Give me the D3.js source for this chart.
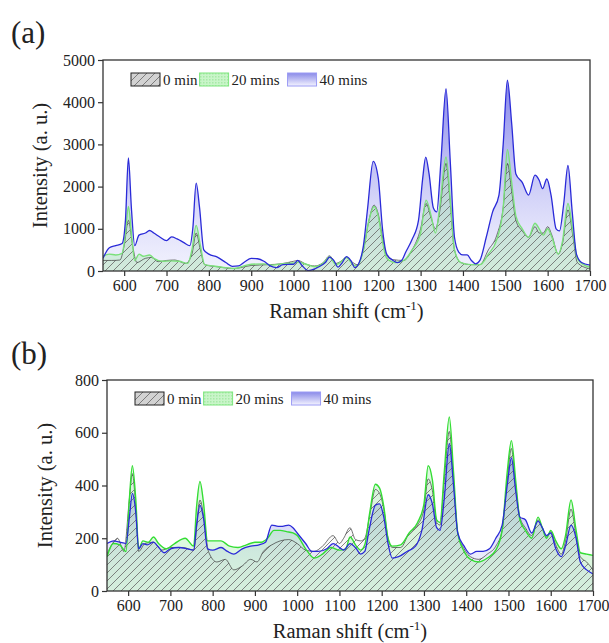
<!DOCTYPE html>
<html>
<head>
<meta charset="utf-8">
<script src="https://cdn.jsdelivr.net/npm/d3@7"></script>
<style>
  body { margin: 0; background: #fff; }
  text { font-family: "Liberation Serif", "Times New Roman", serif; fill: #222; }
</style>
</head>
<body>
<svg id="chart" width="609" height="643"></svg>
<script>
// ---- data: [Raman shift, intensity] ----
var seriesNames = ["0 min", "20 mins", "40 mins"];
var xTicks = [600, 700, 800, 900, 1000, 1100, 1200, 1300, 1400, 1500, 1600, 1700];
var yTicksA = [0, 1000, 2000, 3000, 4000, 5000];
var yTicksB = [0, 200, 400, 600, 800];

// panel (a)
var a0 = [[550,250],[570,250],[590,260],[600,600],[610,1200],[620,600],[630,200],[650,300],[665,320],[680,220],[700,250],[720,260],[745,180],[760,400],[770,900],[780,500],[790,150],[820,100],[860,60],[900,130],[940,150],[970,170],[1000,230],[1010,250],[1030,160],[1050,120],[1070,200],[1085,360],[1100,180],[1110,220],[1125,320],[1140,200],[1150,150],[1165,500],[1178,1200],[1190,1560],[1200,1350],[1210,800],[1220,350],[1235,270],[1260,250],[1280,500],[1300,1000],[1313,1600],[1325,1250],[1335,1000],[1345,1400],[1360,2550],[1370,1600],[1380,500],[1395,200],[1420,150],[1440,150],[1460,500],[1480,850],[1495,1500],[1505,2550],[1515,1900],[1525,1200],[1540,950],[1555,800],[1570,1050],[1580,900],[1590,900],[1600,1050],[1610,850],[1625,400],[1635,650],[1648,1450],[1660,800],[1670,200],[1700,50]];
var a20 = [[550,350],[565,400],[580,380],[595,420],[603,900],[610,1530],[618,800],[625,250],[635,400],[645,350],[660,380],[670,300],[690,230],[710,240],[730,230],[750,180],[760,500],[770,1080],[780,600],[790,150],[810,120],[840,80],[860,60],[880,110],[900,160],[930,170],[950,140],[970,170],[1000,190],[1010,210],[1030,160],[1050,100],[1070,180],[1085,330],[1100,150],[1110,200],[1125,320],[1140,150],[1150,120],[1165,500],[1178,1200],[1190,1530],[1200,1300],[1210,700],[1220,300],[1240,200],[1260,250],[1280,500],[1300,900],[1313,1680],[1325,1300],[1335,900],[1345,1500],[1360,2700],[1370,1700],[1380,500],[1395,200],[1420,150],[1440,150],[1460,400],[1480,750],[1495,1500],[1505,2880],[1515,2100],[1525,1300],[1540,1000],[1555,800],[1570,1130],[1580,1000],[1590,850],[1600,1000],[1610,800],[1625,400],[1635,700],[1648,1600],[1660,900],[1670,300],[1685,150],[1700,90]];
var a40 = [[550,300],[565,550],[580,600],[595,650],[603,1200],[610,2680],[617,1500],[625,600],[635,850],[650,900],[660,960],[670,900],[685,800],[700,720],[712,810],[725,760],[740,680],[755,600],[762,1000],[770,2080],[778,1500],[788,500],[800,400],[820,330],[840,200],[855,110],[870,120],[885,220],[900,300],[915,290],[930,230],[945,120],[960,80],[975,150],[1000,160],[1010,250],[1020,130],[1035,10],[1050,50],[1060,100],[1075,200],[1085,330],[1095,250],[1105,90],[1115,200],[1125,340],[1135,250],[1145,80],[1155,200],[1165,600],[1175,1500],[1188,2600],[1200,2200],[1210,1000],[1220,400],[1235,250],[1245,200],[1255,250],[1265,450],[1280,750],[1295,1200],[1305,2200],[1312,2700],[1320,2300],[1330,1500],[1338,1400],[1348,2600],[1360,4320],[1370,2600],[1380,800],[1390,450],[1400,380],[1410,380],[1420,250],[1430,170],[1440,250],[1455,800],[1470,1400],[1485,1800],[1495,3000],[1505,4520],[1515,3500],[1525,2300],[1540,2100],[1555,1800],[1570,2270],[1580,2150],[1588,1950],[1598,2180],[1608,1800],[1620,1000],[1628,950],[1638,1600],[1648,2500],[1658,1400],[1668,400],[1680,200],[1700,140]];

// panel (b)
var b0 = [[550,140],[565,185],[575,200],[590,150],[603,350],[610,445],[618,320],[625,150],[640,180],[660,185],[680,155],[700,165],[730,165],[755,155],[770,345],[780,270],[790,150],[810,110],[830,120],[850,80],[870,95],[890,120],[905,110],[920,150],[940,175],[960,190],[980,195],[1000,180],[1020,155],[1040,150],[1060,170],[1085,210],[1100,180],[1110,200],[1125,240],[1138,195],[1150,190],[1160,200],[1172,290],[1185,385],[1195,370],[1205,310],[1215,200],[1225,165],[1245,165],[1265,220],[1285,250],[1300,310],[1310,425],[1320,380],[1330,260],[1338,250],[1348,420],[1360,605],[1370,420],[1380,220],[1395,160],[1410,130],[1430,120],[1450,140],[1470,170],[1485,230],[1497,420],[1507,540],[1517,400],[1527,280],[1540,240],[1555,210],[1570,270],[1580,240],[1590,205],[1600,225],[1612,175],[1625,140],[1635,190],[1648,310],[1660,210],[1670,130],[1685,110],[1700,80]];
var b20 = [[550,130],[565,180],[580,175],[595,150],[603,350],[610,475],[618,350],[625,160],[635,190],[648,185],[660,205],[672,180],[690,160],[710,180],[735,200],[755,170],[762,320],[770,415],[778,340],[788,190],[805,190],[820,190],[840,170],[860,165],[880,175],[900,185],[915,185],[930,200],[945,230],[960,230],[975,225],[990,220],[1000,210],[1020,160],[1040,125],[1060,140],[1080,165],[1100,155],[1115,160],[1125,205],[1140,170],[1150,155],[1160,175],[1172,300],[1185,405],[1195,390],[1205,320],[1215,200],[1225,170],[1245,175],[1265,220],[1285,260],[1300,330],[1310,475],[1320,420],[1330,270],[1338,260],[1348,450],[1360,660],[1370,450],[1380,220],[1395,150],[1410,120],[1430,110],[1450,125],[1470,155],[1485,230],[1497,450],[1507,570],[1517,420],[1527,270],[1540,230],[1555,200],[1570,280],[1580,240],[1590,200],[1600,230],[1612,190],[1625,160],[1635,210],[1648,345],[1660,230],[1670,145],[1685,140],[1700,135]];
var b40 = [[550,180],[565,190],[580,185],[595,180],[603,280],[610,370],[618,300],[625,160],[635,180],[645,175],[660,185],[670,170],[685,145],[700,160],[720,165],[740,160],[755,155],[762,250],[770,325],[778,280],[788,160],[800,155],[820,165],[835,150],[850,140],[870,160],[890,170],[910,175],[925,185],[940,250],[955,245],[965,245],[980,250],[990,240],[1000,220],[1020,180],[1035,150],[1050,150],[1070,160],[1085,180],[1100,165],[1110,155],[1125,180],[1140,160],[1150,140],[1160,150],[1170,230],[1185,325],[1195,330],[1205,280],[1215,180],[1225,125],[1240,130],[1260,150],[1280,170],[1295,230],[1310,365],[1320,330],[1330,240],[1338,230],[1348,350],[1360,560],[1370,400],[1380,220],[1395,170],[1410,140],[1425,150],[1440,150],[1455,160],[1470,200],[1485,250],[1497,400],[1507,505],[1517,380],[1527,280],[1540,270],[1555,220],[1570,265],[1580,240],[1590,210],[1600,220],[1612,160],[1625,130],[1635,170],[1648,250],[1660,200],[1670,110],[1685,80],[1700,65]];

var svg = d3.select("#chart");
var defs = svg.append("defs");

// hatch for 0 min
var hatch = defs.append("pattern")
    .attr("id", "hatch")
    .attr("patternUnits", "userSpaceOnUse")
    .attr("width", 8).attr("height", 8);
hatch.append("rect").attr("width", 8).attr("height", 8).attr("fill", "rgba(170,170,170,0.06)");
hatch.append("path")
    .attr("d", "M0,8 L8,0 M-2,2 L2,-2 M6,10 L10,6")
    .attr("stroke", "#666").attr("stroke-width", 0.8);

// fine check for 20 mins swatch
var dots = defs.append("pattern")
    .attr("id", "dots")
    .attr("patternUnits", "userSpaceOnUse")
    .attr("width", 3).attr("height", 3);
dots.append("rect").attr("width", 3).attr("height", 3).attr("fill", "#c9f5c9");
dots.append("rect").attr("width", 1.5).attr("height", 1.5).attr("fill", "#a8eaa8");

var lgGrad = defs.append("linearGradient")
    .attr("id", "lgBlue").attr("x1", 0).attr("y1", 0).attr("x2", 0).attr("y2", 1);
lgGrad.append("stop").attr("offset", 0).attr("stop-color", "#8a8ae8");
lgGrad.append("stop").attr("offset", 1).attr("stop-color", "#f4f4ff");

var line0 = "#3a3a3a", line20 = "#33dd33", line40 = "#2a2ad8";

function panel(opt) {
  var x = d3.scaleLinear().domain([550, 1700]).range([opt.left, opt.right]);
  var y = d3.scaleLinear().domain([0, opt.ymax]).range([opt.bottom, opt.top]);

  // gradient for 40 mins area
  var g = defs.append("linearGradient")
      .attr("id", "blue" + opt.id)
      .attr("gradientUnits", "userSpaceOnUse")
      .attr("x1", 0).attr("x2", 0)
      .attr("y1", y(opt.gradTop)).attr("y2", opt.bottom);
  g.append("stop").attr("offset", 0).attr("stop-color", "rgb(85,85,225)").attr("stop-opacity", opt.blueHigh);
  g.append("stop").attr("offset", 1).attr("stop-color", "rgb(210,210,250)").attr("stop-opacity", opt.blueLow);

  defs.append("clipPath").attr("id", "clip" + opt.id)
    .append("rect")
      .attr("x", opt.left).attr("y", opt.top)
      .attr("width", opt.right - opt.left).attr("height", opt.bottom - opt.top);

  var area = d3.area().curve(d3.curveMonotoneX)
      .x(function(d) { return x(d[0]); })
      .y0(opt.bottom)
      .y1(function(d) { return y(d[1]); });
  var line = d3.line().curve(d3.curveMonotoneX)
      .x(function(d) { return x(d[0]); })
      .y(function(d) { return y(d[1]); });

  var plot = svg.append("g").attr("clip-path", "url(#clip" + opt.id + ")");

  plot.append("path").datum(opt.s40).attr("d", area).attr("fill", "url(#blue" + opt.id + ")");
  plot.append("path").datum(opt.s20).attr("d", area).attr("fill", "rgba(150,232,160,0.32)");
  plot.append("path").datum(opt.s0).attr("d", area).attr("fill", "url(#hatch)");

  plot.append("path").datum(opt.s0).attr("d", line)
      .attr("fill", "none").attr("stroke", line0).attr("stroke-width", 1).attr("stroke-opacity", 0.7);
  plot.append("path").datum(opt.s20).attr("d", line)
      .attr("fill", "none").attr("stroke", opt.green).attr("stroke-width", 1.4);
  plot.append("path").datum(opt.s40).attr("d", line)
      .attr("fill", "none").attr("stroke", line40).attr("stroke-width", 1.3);

  // frame
  svg.append("rect")
      .attr("x", opt.left).attr("y", opt.top)
      .attr("width", opt.right - opt.left).attr("height", opt.bottom - opt.top)
      .attr("fill", "none").attr("stroke", "#333").attr("stroke-width", 1.3);

  var xAxis = svg.append("g")
      .attr("transform", "translate(0," + opt.bottom + ")")
      .call(d3.axisBottom(x).tickValues(xTicks).tickSize(5).tickPadding(4).tickFormat(d3.format("d")));
  var yAxis = svg.append("g")
      .attr("transform", "translate(" + opt.left + ",0)")
      .call(d3.axisLeft(y).tickValues(opt.yTicks).tickSize(5).tickPadding(3).tickFormat(d3.format("d")));
  [xAxis, yAxis].forEach(function(ax) {
    ax.select(".domain").remove();
    ax.selectAll(".tick line").attr("stroke", "#333").attr("stroke-width", 1.2);
    ax.selectAll(".tick text").attr("font-size", 16).attr("fill", "#222")
      .attr("font-family", "Liberation Serif, Times New Roman, serif");
  });

  // panel label
  svg.append("text").attr("x", opt.labelX).attr("y", opt.labelY)
      .attr("font-size", 31).text(opt.label);

  // axis titles
  svg.append("text")
      .attr("transform", "translate(" + opt.yTitleX + "," + ((opt.top + opt.bottom) / 2) + ") rotate(-90)")
      .attr("text-anchor", "middle").attr("font-size", 20.5)
      .text("Intensity (a. u.)");
  var xt = svg.append("text")
      .attr("x", (opt.left + opt.right) / 2).attr("y", opt.xTitleY)
      .attr("text-anchor", "middle").attr("font-size", 20.5);
  xt.append("tspan").text("Raman shift (cm");
  xt.append("tspan").attr("dy", -8).attr("font-size", 13).text("-1");
  xt.append("tspan").attr("dy", 8).text(")");

  // legend: swatch, label, next swatch right after the label
  var lg = svg.append("g").attr("transform", "translate(" + opt.legX + "," + opt.legY + ")");
  var swatchFill = ["url(#hatch)", "url(#dots)", "url(#lgBlue)"];
  var swatchStroke = ["#222", "#7ee67e", "#9c9cf5"];
  var cx = 0;
  seriesNames.forEach(function(name, i) {
    if (i === 0) {
      lg.append("rect").attr("x", cx).attr("y", 0).attr("width", 29).attr("height", 13)
        .attr("fill", "#d4d4d4");
    }
    lg.append("rect").attr("x", cx).attr("y", 0).attr("width", 29).attr("height", 13)
      .attr("fill", swatchFill[i]).attr("stroke", swatchStroke[i]).attr("stroke-width", 1);
    var t = lg.append("text").attr("x", cx + 32).attr("y", 12).attr("font-size", 15).text(name);
    cx = cx + 32 + t.node().getComputedTextLength() + (i === 0 ? 2 : 8);
  });
}

panel({ id: "a", left: 103, right: 590, top: 60, bottom: 271, ymax: 5000, yTicks: yTicksA,
        s0: a0, s20: a20, s40: a40, gradTop: 4600, green: "#7be07b", blueHigh: 0.75, blueLow: 0.3,
        label: "(a)", labelX: 11, labelY: 43, yTitleX: 47, xTitleY: 318, legX: 131, legY: 73 });
panel({ id: "b", left: 107, right: 593, top: 380, bottom: 591, ymax: 800, yTicks: yTicksB,
        s0: b0, s20: b20, s40: b40, gradTop: 600, green: line20, blueHigh: 0.7, blueLow: 0.15,
        label: "(b)", labelX: 11, labelY: 364, yTitleX: 52, xTitleY: 638, legX: 135, legY: 392 });
</script>
</body>
</html>
